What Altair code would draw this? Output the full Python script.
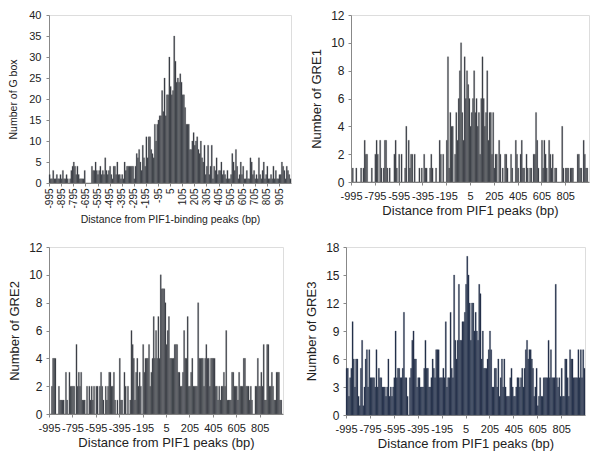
import altair as alt
import pandas as pd

positions = list(range(-995, 1000, 10))

gbox = [
    2, 1, 1, 3, 1, 1, 2, 1, 1, 2,
    1, 3, 1, 1, 2, 1, 0, 1, 3, 4,
    5, 4, 2, 4, 2, 1, 1, 1, 1, 3,
    0, 0, 0, 0, 0, 4, 3, 3, 5, 3,
    2, 3, 4, 2, 3, 2, 6, 3, 2, 3,
    4, 2, 1, 4, 4, 2, 5, 2, 2, 1,
    2, 1, 5, 3, 4, 4, 4, 4, 4, 4,
    1, 4, 7, 6, 8, 5, 3, 9, 6, 4,
    11, 6, 11, 11, 8, 7, 6, 14, 10, 14,
    15, 16, 16, 22, 17, 25, 16, 21, 21, 30,
    23, 21, 22, 35, 29, 24, 25, 24, 26, 24,
    21, 21, 18, 14, 14, 14, 8, 8, 10, 12,
    9, 10, 11, 8, 7, 10, 6, 5, 9, 2,
    4, 9, 2, 4, 9, 1, 4, 3, 6, 2,
    3, 3, 5, 2, 3, 2, 1, 3, 1, 1,
    2, 7, 5, 3, 8, 4, 1, 2, 5, 2,
    4, 1, 1, 3, 1, 1, 6, 5, 2, 3,
    1, 2, 1, 6, 2, 1, 3, 5, 1, 2,
    4, 1, 1, 2, 1, 4, 1, 3, 1, 1,
    2, 2, 5, 4, 3, 1, 4, 3, 2, 1,
]

gre1 = [
    0, 1, 0, 0, 1, 0, 0, 0, 1, 0,
    1, 3, 2, 2, 0, 0, 0, 1, 0, 0,
    2, 3, 2, 0, 3, 1, 0, 1, 3, 3,
    1, 0, 1, 0, 0, 0, 2, 3, 1, 0,
    2, 0, 2, 0, 0, 1, 4, 0, 3, 1,
    2, 2, 0, 2, 0, 0, 0, 1, 0, 1,
    0, 2, 1, 1, 0, 0, 1, 2, 1, 0,
    0, 1, 0, 0, 3, 2, 0, 2, 0, 0,
    3, 9, 1, 5, 4, 4, 0, 2, 5, 3,
    6, 8, 10, 5, 3, 9, 6, 8, 7, 6,
    4, 5, 6, 8, 5, 6, 4, 5, 2, 6,
    9, 6, 4, 5, 8, 3, 5, 5, 2, 5,
    1, 2, 2, 0, 3, 2, 0, 1, 0, 2,
    2, 1, 0, 0, 2, 1, 0, 0, 3, 2,
    1, 0, 2, 3, 1, 1, 0, 2, 1, 0,
    1, 1, 0, 2, 2, 5, 3, 1, 0, 0,
    3, 1, 3, 2, 1, 0, 3, 2, 1, 2,
    0, 1, 1, 0, 0, 0, 0, 4, 1, 0,
    1, 1, 1, 0, 1, 1, 1, 0, 0, 0,
    2, 2, 1, 1, 0, 3, 2, 1, 1, 0,
]

gre2 = [
    0, 0, 2, 4, 4, 4, 0, 0, 2, 1,
    1, 1, 1, 0, 3, 1, 0, 3, 2, 2,
    2, 2, 0, 5, 2, 3, 2, 3, 1, 1,
    1, 0, 2, 0, 2, 1, 2, 1, 2, 0,
    2, 2, 0, 2, 3, 2, 1, 0, 2, 1,
    2, 3, 3, 2, 2, 3, 1, 0, 1, 0,
    4, 1, 1, 0, 3, 2, 0, 2, 0, 1,
    6, 5, 4, 1, 3, 4, 2, 3, 2, 0,
    5, 3, 4, 4, 4, 5, 2, 3, 4, 7,
    4, 6, 4, 7, 4, 10, 9, 9, 9, 8,
    5, 6, 7, 4, 4, 4, 4, 5, 5, 5,
    3, 3, 2, 2, 3, 6, 4, 4, 7, 2,
    2, 3, 4, 2, 2, 2, 2, 8, 4, 4,
    4, 4, 2, 4, 5, 4, 4, 2, 4, 4,
    4, 4, 2, 2, 1, 2, 1, 2, 2, 3,
    2, 6, 1, 1, 1, 1, 3, 3, 2, 2,
    2, 1, 3, 2, 2, 2, 4, 4, 2, 2,
    2, 1, 2, 1, 0, 0, 2, 2, 4, 2,
    2, 3, 2, 5, 1, 1, 5, 5, 2, 2,
    3, 2, 1, 1, 3, 3, 3, 1, 1, 0,
]

gre3 = [
    5, 5, 2, 4, 5, 10, 6, 3, 6, 6,
    2, 1, 5, 8, 1, 3, 6, 7, 3, 7,
    4, 4, 4, 4, 3, 7, 3, 5, 4, 4,
    3, 3, 3, 2, 3, 6, 2, 3, 2, 3,
    4, 9, 4, 5, 5, 4, 4, 5, 11, 4,
    4, 2, 0, 4, 5, 8, 9, 6, 6, 3,
    4, 4, 3, 3, 3, 5, 8, 5, 5, 3,
    3, 4, 6, 5, 4, 7, 7, 7, 4, 4,
    4, 5, 4, 10, 3, 4, 4, 11, 5, 4,
    15, 8, 6, 8, 14, 8, 8, 10, 10, 11,
    14, 17, 15, 12, 8, 12, 12, 9, 11, 9,
    8, 14, 13, 6, 9, 5, 5, 5, 6, 7,
    9, 7, 3, 3, 5, 5, 3, 6, 2, 4,
    6, 3, 6, 3, 2, 2, 2, 4, 5, 3,
    2, 2, 3, 4, 4, 3, 4, 5, 3, 5,
    7, 8, 6, 7, 7, 6, 5, 2, 3, 5,
    1, 2, 4, 2, 2, 4, 4, 4, 4, 8,
    4, 7, 4, 4, 4, 14, 4, 3, 4, 2,
    5, 2, 2, 6, 6, 4, 2, 7, 6, 6,
    4, 4, 4, 4, 7, 4, 7, 4, 7, 5,
]

ticks_p1 = list(range(-995, 1000, 100))
ticks_p234 = list(range(-995, 900, 200))

FONT = "Liberation Sans"


def panel(vals, ytitle, ymax, ystep, xvals, xangle, xtitle, w, h,
          fill, stroke, xlabel_fs, ylabel_fs, title_fs, ylab_pad, ytitle_pad,
          xlab_pad, xtitle_pad):
    df = pd.DataFrame({"pos": positions, "count": vals})
    return alt.Chart(df).mark_bar(
        fill=fill, stroke=stroke, strokeWidth=0.3
    ).encode(
        x=alt.X(
            "pos:O", sort=None,
            scale=alt.Scale(paddingInner=0, paddingOuter=0),
            axis=alt.Axis(
                values=xvals, labelAngle=xangle, title=xtitle,
                labelFontSize=xlabel_fs, titleFontSize=title_fs,
                labelFont=FONT, titleFont=FONT, titleFontWeight="normal",
                labelColor="#222", titleColor="#222",
                domainColor="#888", tickColor="#888", tickSize=3,
                labelPadding=xlab_pad, titlePadding=xtitle_pad,
                labelOverlap=False,
            ),
        ),
        y=alt.Y(
            "count:Q",
            scale=alt.Scale(domain=[0, ymax], nice=False),
            axis=alt.Axis(
                values=list(range(0, ymax + 1, ystep)), title=ytitle, grid=False,
                labelFontSize=ylabel_fs, titleFontSize=title_fs,
                labelFont=FONT, titleFont=FONT, titleFontWeight="normal",
                labelColor="#222", titleColor="#222",
                domainColor="#888", tickColor="#888", tickSize=3,
                labelPadding=ylab_pad, titlePadding=ytitle_pad,
            ),
        ),
    ).properties(width=w, height=h)


p1 = panel(gbox, "Number of G box", 40, 5, ticks_p1, -90,
           "Distance from PIF1-binding peaks (bp)", 242, 168,
           "#2b303a", "#777777", 10, 11, 10.5, 5, 10, 2, 6)
p2 = panel(gre1, "Number of GRE1", 12, 2, ticks_p234, 0,
           "Distance from PIF1 peaks (bp)", 238, 167,
           "#2b303a", "#777777", 11, 12, 13, 4, 7, 5, 3)
p3 = panel(gre2, "Number of GRE2", 12, 2, ticks_p234, 0,
           "Distance from PIF1 peaks (bp)", 234, 167,
           "#2b303a", "#777777", 11, 12, 13, 4, 7, 5, 3)
p4 = panel(gre3, "Number of GRE3", 18, 3, ticks_p234, 0,
           "Distance from PIF1 peaks (bp)", 239, 168,
           "#1a2742", "#4a5568", 11, 12, 13, 4, 7, 5, 3)

row1 = alt.hconcat(p1, p2, spacing=18)
row2 = alt.hconcat(p3, p4, spacing=21)
chart = alt.vconcat(row1, row2, spacing=14).configure_view(
    stroke="#b8b8b8", strokeWidth=1
).configure(background="white", padding=0)

chart.save("out.html", embed_options={"renderer": "svg", "actions": False})
